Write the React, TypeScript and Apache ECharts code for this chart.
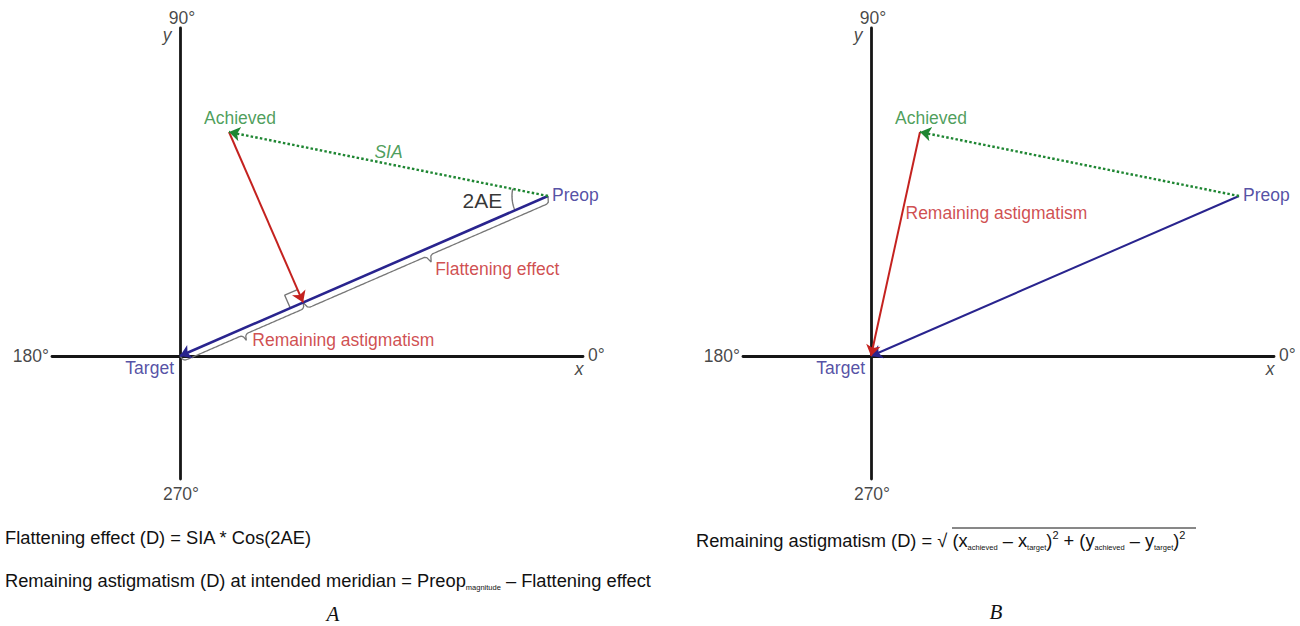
import React, { useEffect, useRef } from "react";
import * as echarts from "echarts";

// ---- data (astigmatism vectors, arbitrary dioptre units) ----
const TARGET: number[] = [0, 0];
const PREOP: number[] = [3.68, 1.6];
const ACHIEVED: number[] = [0.49, 2.24];
const X_RANGE: number[] = [-1.28, 4.03];
const Y_RANGE: number[] = [-1.23, 3.28];
const DEGREE_LABELS: string[] = ["0°", "90°", "180°", "270°"];
const AXIS_NAMES: string[] = ["x", "y"];
const POINT_NAMES: string[] = ["Target", "Preop", "Achieved"];
const ANNOT_A: string[] = ["SIA", "2AE", "Flattening effect", "Remaining astigmatism"];
const ANNOT_B: string[] = ["Remaining astigmatism"];
const FORMULA_A1 = "Flattening effect (D) = SIA * Cos(2AE)";
const FORMULA_A2 = "Remaining astigmatism (D) at intended meridian = Preop{sub|magnitude} – Flattening effect";
const FORMULA_B = "Remaining astigmatism (D) = √ (x{sub|achieved} – x{sub|target}){sup|2} + (y{sub|achieved} – y{sub|target}){sup|2}";
const PANEL_LETTERS: string[] = ["A", "B"];

const FONT = "'Liberation Sans', Arial, sans-serif";
const BLUE = "#29248e";
const RED = "#c4221f";
const GREEN = "#1e8632";
const AXIS = "#161616";
const GRAY = "#777777";

type P = number[];
const add = (a: P, b: P): P => [a[0] + b[0], a[1] + b[1]];
const sub = (a: P, b: P): P => [a[0] - b[0], a[1] - b[1]];
const mul = (a: P, k: number): P => [a[0] * k, a[1] * k];
const len = (a: P) => Math.hypot(a[0], a[1]);
const norm = (a: P): P => mul(a, 1 / len(a));

function footOn(line: P, pt: P): P {
  const t = (line[0] * pt[0] + line[1] * pt[1]) / (line[0] * line[0] + line[1] * line[1]);
  return mul(line, t);
}

function brace(Pa: P, Qa: P, nrm: P, d: number, r: number): P[] {
  const v = sub(Qa, Pa);
  const L = len(v);
  const dir = norm(v);
  const half = L / 2;
  const pts: P[] = [];
  const N = 120;
  for (let i = 0; i <= N; i++) {
    const s = (L * i) / N;
    const u = s <= half ? s : L - s;
    const w = half - u;
    const e = u >= r ? 1 : Math.sqrt(Math.max(0, 1 - Math.pow(1 - u / r, 2)));
    const tp = w >= r ? 0 : 1 - Math.sqrt(Math.max(0, 1 - Math.pow(1 - w / r, 2)));
    const off = d * e + d * tp;
    pts.push(add(add(Pa, mul(dir, s)), mul(nrm, off)));
  }
  return pts;
}

function arc(c: P, r: number, a1: number, a2: number): P[] {
  const pts: P[] = [];
  const N = 30;
  for (let i = 0; i <= N; i++) {
    const a = a1 + ((a2 - a1) * i) / N;
    pts.push([c[0] + r * Math.cos(a), c[1] + r * Math.sin(a)]);
  }
  return pts;
}

const txt = (size = 17.5, color = AXIS, italic = false) => ({
  fontSize: size,
  fontFamily: FONT,
  color,
  fontStyle: italic ? "italic" : "normal",
});

function labelPoint(idx: number, value: P, text: string, offset: number[], align: string, style: any) {
  return {
    type: "scatter",
    xAxisIndex: idx,
    yAxisIndex: idx,
    symbolSize: 0.1,
    itemStyle: { color: "transparent" },
    silent: true,
    z: 10,
    data: [
      {
        value,
        label: {
          show: true,
          formatter: text,
          position: "inside",
          offset,
          align,
          verticalAlign: "middle",
          ...style,
        },
      },
    ],
  };
}

function axisLabels(idx: number): any[] {
  const [x0, x1] = X_RANGE;
  const [y0, y1] = Y_RANGE;
  return [
    labelPoint(idx, [x1, 0], DEGREE_LABELS[0], [5, -1], "left", txt()),
    labelPoint(idx, [0, y1], DEGREE_LABELS[1], [2, -10], "center", txt()),
    labelPoint(idx, [x0, 0], DEGREE_LABELS[2], [-3, 0], "right", txt()),
    labelPoint(idx, [0, y0], DEGREE_LABELS[3], [1, 15], "center", txt()),
    labelPoint(idx, [x1, 0], AXIS_NAMES[0], [-4, 13], "center", txt(17.5, AXIS, true)),
    labelPoint(idx, [0, y1], AXIS_NAMES[1], [-13, 7], "center", txt(17.5, AXIS, true)),
  ];
}

function pointLabels(idx: number): any[] {
  return [
    labelPoint(idx, TARGET, POINT_NAMES[0], [-6, 12], "right", txt(17.5, BLUE)),
    labelPoint(idx, PREOP, POINT_NAMES[1], [4, -1], "left", txt(17.5, BLUE)),
    labelPoint(idx, ACHIEVED, POINT_NAMES[2], [11, -14], "center", txt(17.5, GREEN)),
  ];
}

function arrow(idx: number, from: P, to: P, color: string, width: number, dashed = false) {
  return {
    type: "lines",
    coordinateSystem: "cartesian2d",
    xAxisIndex: idx,
    yAxisIndex: idx,
    silent: true,
    symbol: ["none", "arrow"],
    symbolSize: 11,
    z: 5,
    lineStyle: {
      color,
      width,
      opacity: 1,
      type: dashed ? [2.5, 2.2] : "solid",
    },
    data: [{ coords: [from, to] }],
  };
}

function polyline(idx: number, pts: P[], color: string, width: number) {
  return {
    type: "line",
    xAxisIndex: idx,
    yAxisIndex: idx,
    silent: true,
    showSymbol: false,
    symbol: "none",
    smooth: false,
    lineStyle: { color, width },
    z: 4,
    data: pts,
  };
}

function buildOption() {
  const foot = footOn(PREOP, ACHIEVED);
  const dirTP = norm(PREOP);
  const nrm: P = [dirTP[1], -dirTP[0]];
  const braceF = brace(PREOP, foot, nrm, 0.07, 0.05);
  const braceR = brace(foot, TARGET, nrm, 0.06, 0.045);
  const tipF = add(mul(add(PREOP, foot), 0.5), mul(nrm, 0.14));
  const tipR = add(mul(add(foot, TARGET), 0.5), mul(nrm, 0.12));
  const aSIA = Math.atan2(ACHIEVED[1] - PREOP[1], ACHIEVED[0] - PREOP[0]);
  let aT = Math.atan2(TARGET[1] - PREOP[1], TARGET[0] - PREOP[0]);
  if (aT < aSIA) aT += Math.PI * 2;
  const angArc = arc(PREOP, 0.36, aSIA, aT);
  const aMid = (aSIA + aT) / 2;
  const arcMid: P = [PREOP[0] + 0.36 * Math.cos(aMid), PREOP[1] + 0.36 * Math.sin(aMid)];
  const u = norm(sub(TARGET, foot));
  const v = norm(sub(ACHIEVED, foot));
  const s = 0.14;
  const square: P[] = [add(foot, mul(u, s)), add(add(foot, mul(u, s)), mul(v, s)), add(foot, mul(v, s))];
  const midSIA = mul(add(PREOP, ACHIEVED), 0.5);
  const midRB = mul(add(ACHIEVED, TARGET), 0.5);

  const axisCommon = (type: "x" | "y") => ({
    type: "value",
    min: type === "x" ? X_RANGE[0] : Y_RANGE[0],
    max: type === "x" ? X_RANGE[1] : Y_RANGE[1],
    axisLine: { show: true, onZero: true, lineStyle: { color: AXIS, width: 2.8 } },
    axisTick: { show: false },
    axisLabel: { show: false },
    splitLine: { show: false },
  });

  const series: any[] = [
    // Panel A
    polyline(0, braceF, GRAY, 1.3),
    polyline(0, braceR, GRAY, 1.3),
    polyline(0, angArc, GRAY, 1.4),
    polyline(0, square, GRAY, 1.4),
    arrow(0, PREOP, TARGET, BLUE, 2.6),
    arrow(0, ACHIEVED, foot, RED, 2),
    arrow(0, PREOP, ACHIEVED, GREEN, 2.4, true),
    ...axisLabels(0),
    ...pointLabels(0),
    labelPoint(0, midSIA, ANNOT_A[0], [0, -12], "center", txt(17.5, GREEN, true)),
    labelPoint(0, arcMid, ANNOT_A[1], [-10, 1], "right", txt(21, "#000")),
    labelPoint(0, tipF, ANNOT_A[2], [4, 7], "left", txt(17.5, RED)),
    labelPoint(0, tipR, ANNOT_A[3], [6, 0], "left", txt(17.5, RED)),
    // Panel B
    arrow(1, PREOP, TARGET, BLUE, 2),
    arrow(1, ACHIEVED, TARGET, RED, 2),
    arrow(1, PREOP, ACHIEVED, GREEN, 2.4, true),
    ...axisLabels(1),
    ...pointLabels(1),
    labelPoint(1, midRB, ANNOT_B[0], [10, -31], "left", txt(17.5, RED)),
  ];

  const rich = {
    sub: { fontSize: 7.5, fontFamily: FONT, fill: "#111", color: "#111", verticalAlign: "bottom", lineHeight: 9 },
    sup: { fontSize: 11, fontFamily: FONT, fill: "#111", color: "#111", verticalAlign: "top", lineHeight: 11 },
  };
  const formulaText = (x: number, y: number, text: string) => ({
    type: "text",
    x,
    y,
    silent: true,
    style: {
      text,
      rich,
      fontSize: 18.3,
      fontFamily: FONT,
      fill: "#111",
      lineHeight: 22,
      align: "left",
      verticalAlign: "middle",
      textAlign: "left",
      textVerticalAlign: "middle",
    },
  });
  const letter = (x: number, y: number, text: string) => ({
    type: "text",
    x,
    y,
    silent: true,
    style: {
      text,
      fontSize: 21,
      fontFamily: "'Liberation Serif', 'Times New Roman', serif",
      fontStyle: "italic",
      fill: "#111",
      align: "center",
      verticalAlign: "middle",
      textAlign: "center",
      textVerticalAlign: "middle",
    },
  });

  return {
    animation: false,
    backgroundColor: "#ffffff",
    grid: [
      { left: 52, top: 28, width: 531, height: 451, outerBoundsMode: "none", containLabel: false },
      { left: 743, top: 28, width: 531, height: 451, outerBoundsMode: "none", containLabel: false },
    ],
    xAxis: [
      { ...axisCommon("x"), gridIndex: 0 },
      { ...axisCommon("x"), gridIndex: 1 },
    ],
    yAxis: [
      { ...axisCommon("y"), gridIndex: 0 },
      { ...axisCommon("y"), gridIndex: 1 },
    ],
    series,
    graphic: [
      formulaText(5, 537, FORMULA_A1),
      formulaText(5, 580, FORMULA_A2),
      formulaText(696, 540, FORMULA_B),
      {
        type: "line",
        silent: true,
        shape: { x1: 952, y1: 528, x2: 1196, y2: 528 },
        style: { stroke: "#111", lineWidth: 1 },
      },
      letter(333, 614, PANEL_LETTERS[0]),
      letter(996, 612, PANEL_LETTERS[1]),
    ],
  };
}

export default function App() {
  const ref = useRef<HTMLDivElement>(null);
  useEffect(() => {
    if (!ref.current) return;
    const chart = echarts.init(ref.current, undefined, { renderer: "svg" });
    chart.setOption(buildOption() as any);
    return () => chart.dispose();
  }, []);
  return (
    <div
      ref={ref}
      style={{ position: "absolute", left: 0, top: 0, width: 1300, height: 626, background: "#fff" }}
    />
  );
}
